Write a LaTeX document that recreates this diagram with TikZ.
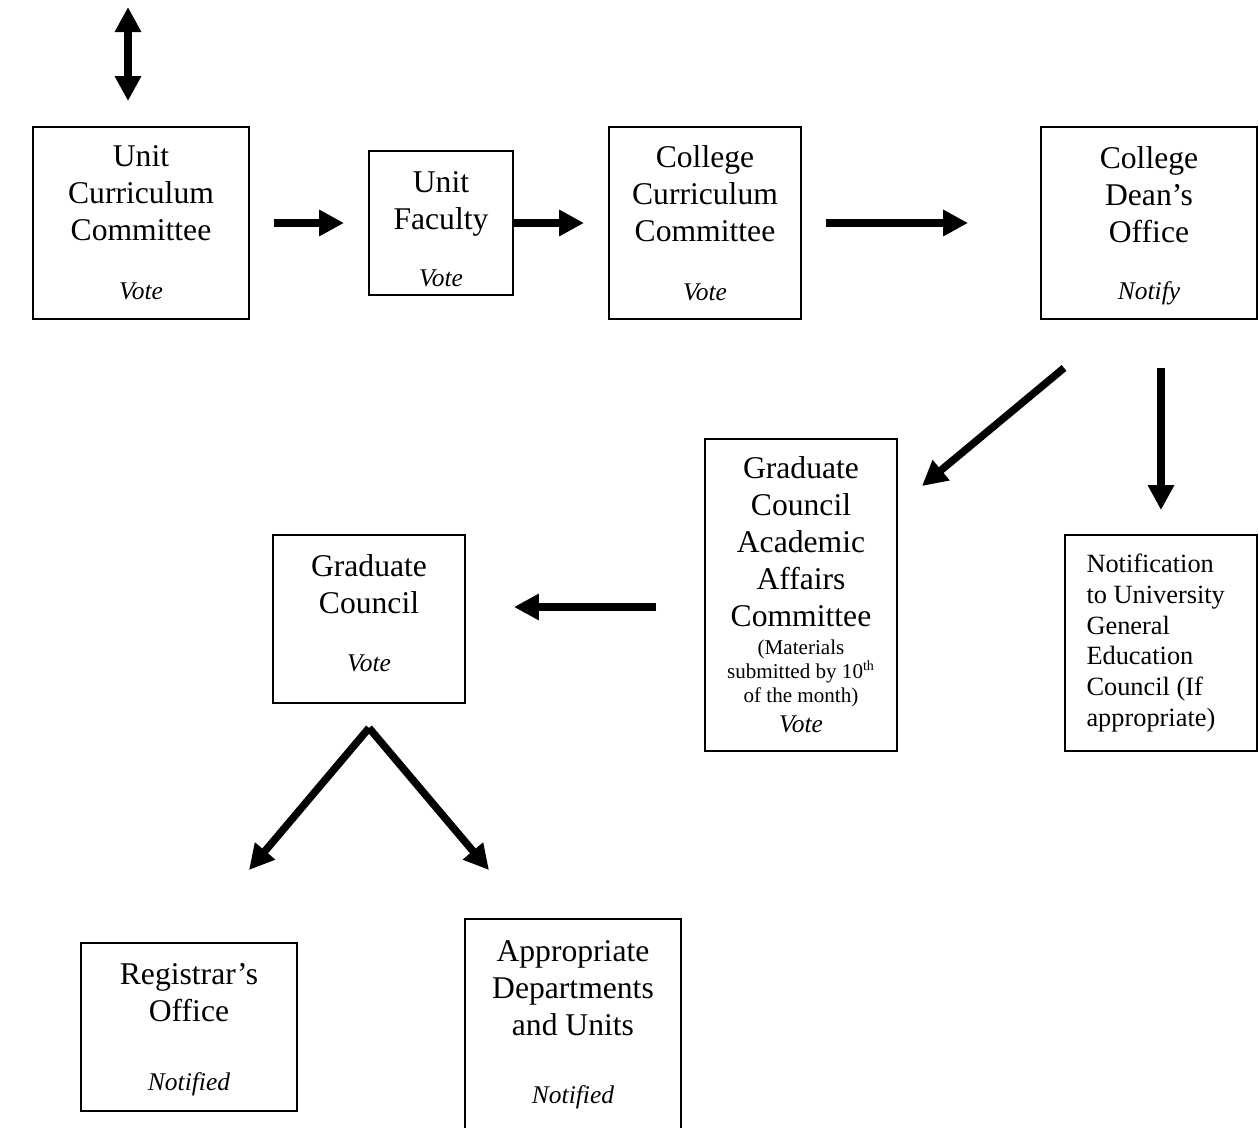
\documentclass[tikz,border=0pt]{standalone}
\usepackage{fontspec}
\setmainfont{Liberation Serif}
\usepackage{xcolor}
\usetikzlibrary{arrows.meta}

\tikzset{
  stage/.style={draw, line width=1.1pt, inner sep=0pt, align=center,
    font=\fontsize{18}{21}\selectfont},
  flow/.style={line width=0.15cm, -{Triangle[length=0.5cm,width=0.5cm]}},
  twoway/.style={line width=0.15cm, {Triangle[length=0.5cm,width=0.5cm]}-{Triangle[length=0.5cm,width=0.5cm]}}
}
\newcommand{\act}[1]{{\fontsize{14.5}{17}\selectfont\itshape #1}}

\begin{document}
\begin{tikzpicture}[x=0.02cm, y=-0.02cm]
    \useasboundingbox (0,0) rectangle (1259,1128);
        % Fila de arriba
        \node[stage, minimum width=4.32cm, minimum height=3.84cm] (ucc) at (141,223)
            {Unit\\Curriculum\\Committee\\[12.6pt]\act{Vote}};
        \node[stage, minimum width=2.88cm, minimum height=2.88cm] (uf) at (441,223)
            {\rule{0pt}{19pt}Unit\\Faculty\\[11pt]\act{Vote}};
        \node[stage, minimum width=3.84cm, minimum height=3.84cm] (ccc) at (705,223)
            {College\\Curriculum\\Committee\\[12.6pt]\act{Vote}};
        \node[stage, minimum width=4.32cm, minimum height=3.84cm] (cdo) at (1149,223)
            {\rule{0pt}{16pt}College\\Dean’s\\Office\\[11.5pt]\act{Notify}};
        % Fila del medio
        \node[stage, minimum width=3.84cm, minimum height=6.24cm] (gcaac) at (801,595)
            {Graduate\\Council\\Academic\\Affairs\\Committee\\[-5pt]
             {\fontsize{12}{13.6}\selectfont (Materials}\\[-7.4pt]
             {\fontsize{12}{13.6}\selectfont submitted by 10\textsuperscript{th}}\\[-7.4pt]
             {\fontsize{12}{13.6}\selectfont of the month)}\\[-3.5pt]
             \act{Vote}};
        \node[stage, minimum width=3.84cm, minimum height=4.32cm, align=left,
              font=\fontsize{15}{17.6}\selectfont] (nugec) at (1161,643)
            {\makebox[2.98cm][l]{Notification}\\to University\\General\\Education\\Council (If\\appropriate)};
        \node[stage, minimum width=3.84cm, minimum height=3.36cm] (gc) at (369,619)
            {Graduate\\Council\\[12pt]\act{Vote}\rule[-7pt]{0pt}{7pt}};
        % Fila de abajo
        \node[stage, minimum width=4.32cm, minimum height=3.36cm] (ro) at (189,1027)
            {\rule{0pt}{15pt}Registrar’s\\Office\\[18.7pt]\act{Notified}};
        \node[stage, minimum width=4.32cm, minimum height=4.24cm] (adu) at (573,1025)
            {Appropriate\\Departments\\and Units\\[17.7pt]\act{Notified}};
        % Flechas
        \draw[twoway] ([shift={(-13,-25)}]ucc.north) -- ++(0,-94);
        \draw[flow, shorten <=0.48cm, shorten >=0.48cm] (ucc) -- (uf);
        \draw[flow, shorten >=0.48cm] (uf) -- (ccc);
        \draw[flow, shorten <=0.48cm, shorten >=1.44cm] (ccc) -- (cdo);
        \draw[flow] ([shift={(24,48)}]cdo.south west) -- ([shift={(24,48)}]gcaac.north east);
        \draw[flow] ([yshift=-0.96cm]cdo.south -| nugec.north) -- ([yshift=0.48cm]nugec.north);
        \draw[flow] ([shift={(-48,12)}]gcaac.west) -- ([shift={(48,12)}]gc.east |- gcaac.west);
        \coordinate (split) at ([yshift=-0.48cm]gc.south);
        \draw[flow] (split) -- ([shift={(60,-72)}]ro.north);
        \draw[flow] (split) -- ([shift={(-84,-48)}]adu.north);
    \end{tikzpicture}
\end{document}
